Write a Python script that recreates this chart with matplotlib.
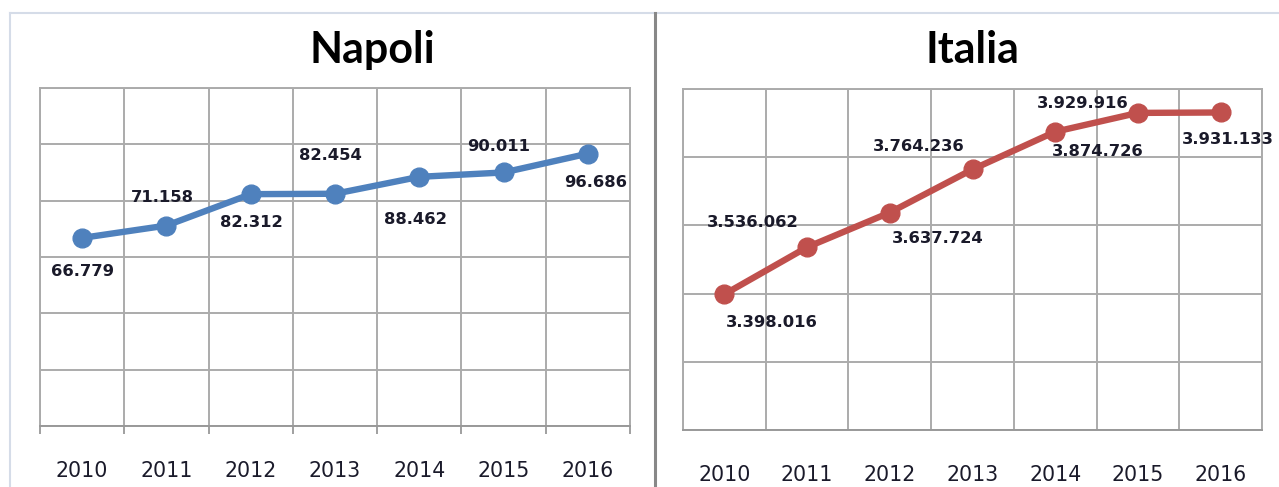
import matplotlib
matplotlib.use("Agg")
import matplotlib.pyplot as plt
from matplotlib.lines import Line2D
from matplotlib.ticker import MultipleLocator, FixedLocator

years = ["2010", "2011", "2012", "2013", "2014", "2015", "2016"]
napoli = [66779, 71158, 82312, 82454, 88462, 90011, 96686]
italia = [3398016, 3536062, 3637724, 3764236, 3874726, 3929916, 3931133]
napoli_title = "Napoli"
italia_title = "Italia"

# label offsets (style, in pixels: dx right, dy up)
napoli_off = [(0, -34), (-4, 28), (1, -28), (-5, 38), (-4, -43), (-5, 26), (8, -29)]
italia_off = [(47, -28), (-54, 25), (48, -26), (-54, 23), (43, -20), (-55, 9), (7, -27)]

W, H = 1279, 487
fig = plt.figure(figsize=(W / 100, H / 100), dpi=100)
fig.patch.set_facecolor("white")

GRID = "#ABABAB"
TXT = "#1a1a2a"


def fmt(v):
    return f"{v:,}".replace(",", ".")


def panel(rect, vals, color, ylim, ystep, offs, ticks_out):
    ax = fig.add_axes(rect)
    x = list(range(len(vals)))
    ax.plot(x, vals, color=color, lw=4.6, marker="o", ms=13.5,
            solid_capstyle="round", zorder=3, clip_on=False)
    ax.set_xlim(-0.5, len(vals) - 0.5)
    ax.set_ylim(*ylim)
    ax.yaxis.set_major_locator(MultipleLocator(ystep))
    ax.xaxis.set_major_locator(FixedLocator(x))
    ax.xaxis.set_minor_locator(FixedLocator([i - 0.5 for i in range(len(vals) + 1)]))
    ax.set_xticklabels(years, fontsize=14.8, color=TXT, family="DejaVu Sans")
    ax.tick_params(axis="x", which="major", length=0, pad=25)
    if ticks_out:
        ax.tick_params(axis="x", which="minor", length=6, width=1.3, color="#999999", direction="out")
    else:
        ax.tick_params(axis="x", which="minor", length=0)
    ax.tick_params(axis="y", length=0, labelleft=False)
    ax.grid(True, which="minor", axis="x", color=GRID, lw=1.4)
    ax.grid(True, which="major", axis="y", color=GRID, lw=1.4)
    ax.set_axisbelow(True)
    for s in ax.spines.values():
        s.set_color(GRID)
        s.set_linewidth(1.4)
    ax.spines["bottom"].set_color("#999999")
    for xi, v, (dx, dy) in zip(x, vals, offs):
        ax.annotate(fmt(v), (xi, v), xytext=(dx, dy), textcoords="offset pixels",
                    ha="center", va="center", fontsize=11.8, fontweight="bold",
                    color=TXT, family="DejaVu Sans", zorder=4, annotation_clip=False)
    return ax


panel([40 / W, 1 - 426 / H, 590 / W, 338 / H], napoli, "#4F81BD", (0, 120000), 20000,
      napoli_off, True)
panel([683 / W, 1 - 430 / H, 579 / W, 341 / H], italia, "#C0504D", (3000000, 4000000), 200000,
      italia_off, False)

fig.text(372 / W, 1 - 63 / H, napoli_title, ha="center", va="baseline",
         fontsize=31, fontweight="bold", family="Lato", color="black")
fig.text(972 / W, 1 - 63 / H, italia_title, ha="center", va="baseline",
         fontsize=31, fontweight="bold", family="Lato", color="black")

# frame decorations
fig.add_artist(Line2D([10 / W, 1], [1 - 13 / H, 1 - 13 / H], color="#D5DCE8", lw=1.5))
fig.add_artist(Line2D([10 / W, 10 / W], [0, 1 - 13 / H], color="#D5DCE8", lw=1.5))
fig.add_artist(Line2D([655 / W, 655 / W], [0, 1 - 13 / H], color="#888888", lw=2.2))

fig.savefig("out.png", dpi=100)
